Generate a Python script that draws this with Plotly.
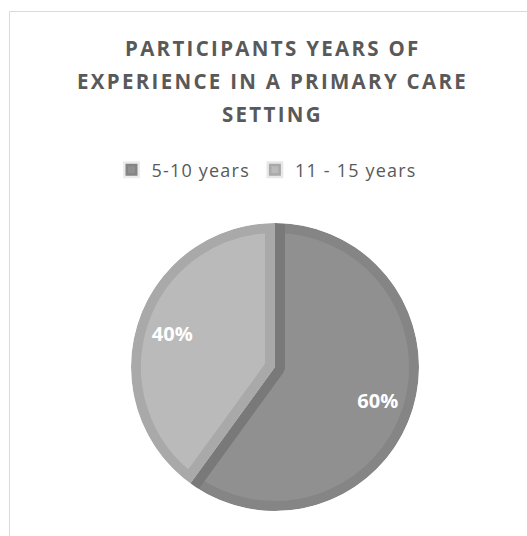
import plotly.graph_objects as go

# Survey data: years of experience in a primary care setting
categories = ["5-10 years", "11 - 15 years"]
shares = [60, 40]
title_lines = ["PARTICIPANTS YEARS OF", "EXPERIENCE IN A PRIMARY CARE", "SETTING"]

W, H = 527, 536
fill_colors = ["#909090", "#bababa"]
# translucent dark edge gives each slice a slightly darker inset rim
edge_colors = ["rgba(0,0,0,0.075)", "rgba(0,0,0,0.09)"]

cx, cy, R = 275, 367, 144   # pie centre (px from top-left) and radius
rim = 10                    # visible rim width inside each slice
mask_R = R + rim + 6

def dom(cx, cy, r):
    return dict(x=[(cx - r) / W, (cx + r) / W],
                y=[(H - cy - r) / H, (H - cy + r) / H])

def spaced(text, px):
    return f"<span style='letter-spacing:{px}px'>{text}</span>"

legend_names = [spaced(c, 1.2) for c in categories]

fig = go.Figure()

# the slices themselves
fig.add_trace(go.Pie(
    labels=legend_names,
    values=shares,
    sort=False,
    direction="clockwise",
    rotation=0,
    marker=dict(colors=fill_colors, line=dict(color=edge_colors, width=2 * rim)),
    textinfo="none",
    domain=dom(cx, cy, R),
    hovertemplate="%{label}: %{percent}<extra></extra>",
))

# white ring trimming the half of the rim stroke that falls outside the pie
fig.add_trace(go.Pie(
    values=[1],
    labels=["_ring"],
    sort=False,
    hole=R / mask_R,
    marker=dict(colors=["white"], line=dict(width=0)),
    textinfo="none",
    hoverinfo="skip",
    showlegend=False,
    domain=dom(cx, cy, mask_R),
))

# percentage labels, carried by a transparent ring so they sit out toward the rim
fig.add_trace(go.Pie(
    labels=legend_names,
    values=shares,
    sort=False,
    direction="clockwise",
    rotation=0,
    hole=0.5,
    marker=dict(colors=["rgba(0,0,0,0)"] * len(shares), line=dict(width=0)),
    textinfo="percent",
    textposition="inside",
    insidetextorientation="horizontal",
    textfont=dict(family="Open Sans", size=20, color="white", weight="bold"),
    domain=dom(cx, cy, R),
    hoverinfo="skip",
    showlegend=False,
))

title_y = [48, 81, 114]
for line, ty in zip(title_lines, title_y):
    fig.add_annotation(
        text=spaced(line, 2.3), x=272.5 / W, y=1 - ty / H, xref="paper", yref="paper",
        xanchor="center", yanchor="middle", showarrow=False,
        font=dict(family="Open Sans", size=20.5, color="#595959", weight="bold"),
    )

# light chart-area frame
fig.add_shape(type="rect", xref="paper", yref="paper",
              x0=9.5 / W, x1=1.02, y0=-0.02, y1=1 - 11.5 / H,
              line=dict(color="#d9d9d9", width=1), fillcolor="rgba(0,0,0,0)", layer="below")

fig.update_layout(
    width=W, height=H,
    margin=dict(l=0, r=0, t=0, b=0),
    paper_bgcolor="white",
    plot_bgcolor="white",
    font=dict(family="Open Sans", color="#595959"),
    showlegend=True,
    legend=dict(orientation="h", x=267 / W, xanchor="center",
                y=1 - 170 / H, yanchor="middle",
                font=dict(family="Open Sans", size=18, color="#595959"),
                itemwidth=30, bgcolor="rgba(0,0,0,0)"),
)

fig.write_html("out.html")
